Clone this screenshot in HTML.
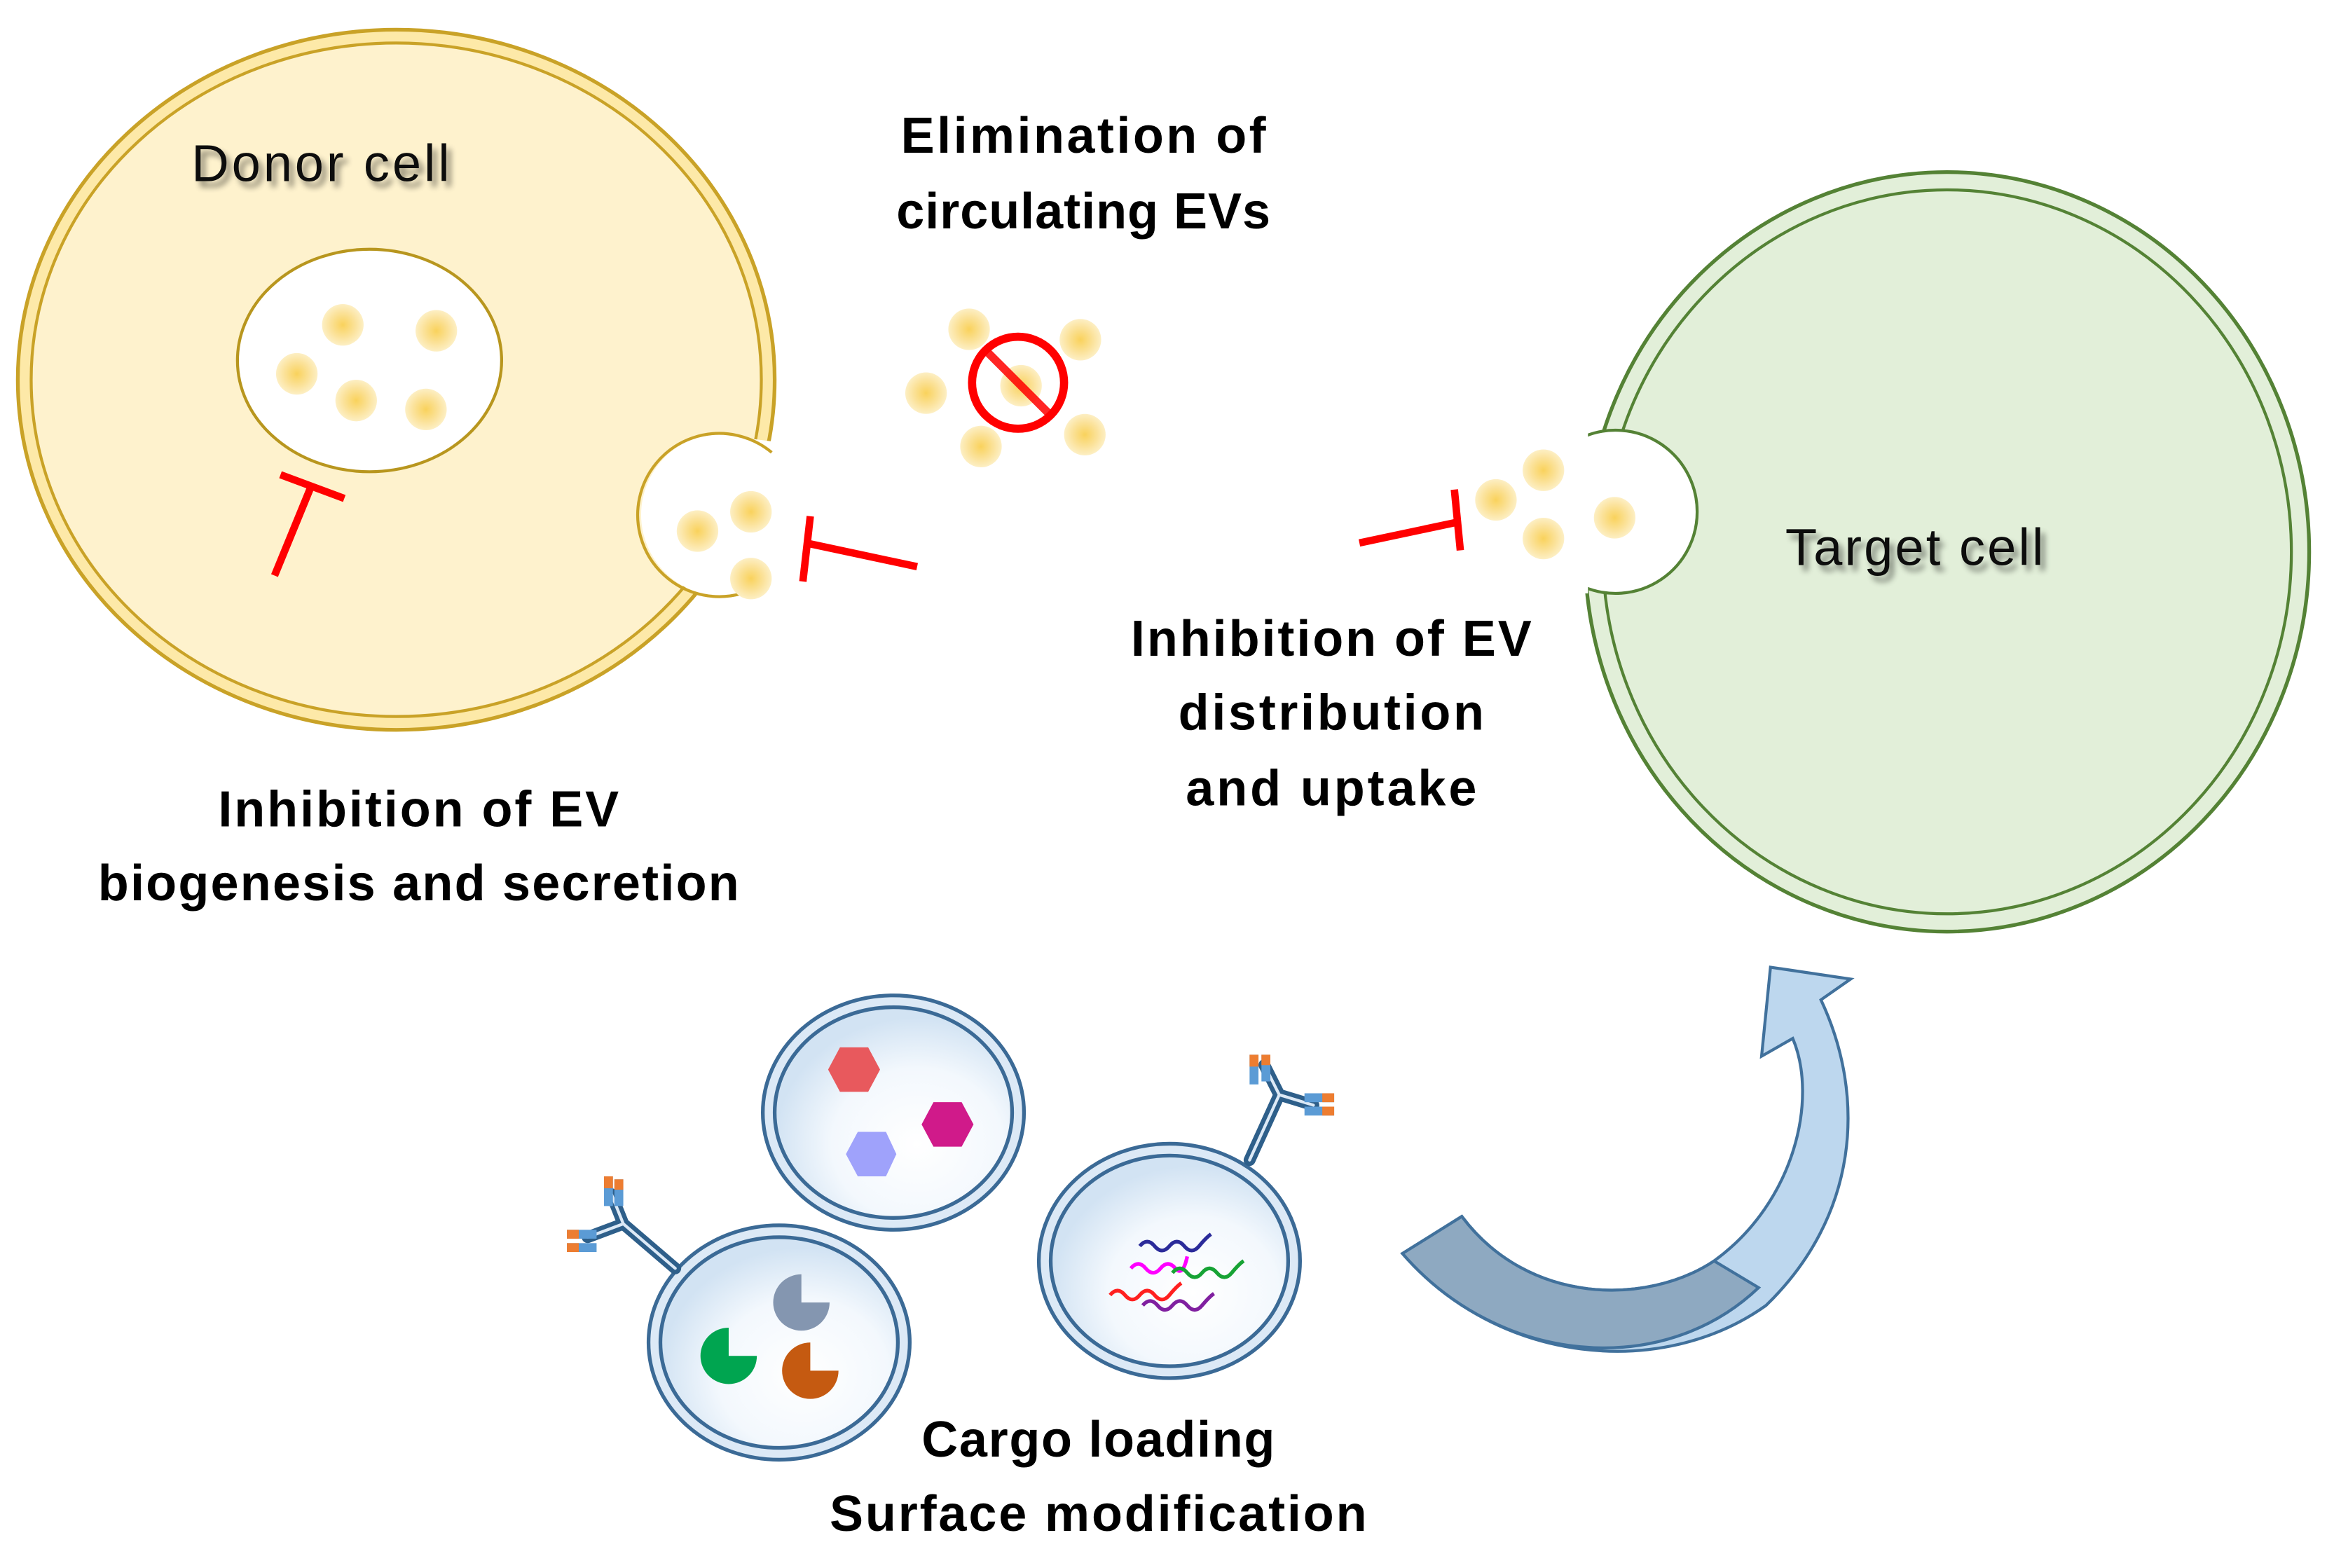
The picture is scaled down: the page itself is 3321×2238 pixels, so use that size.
<!DOCTYPE html>
<html><head><meta charset="utf-8"><style>
html,body{margin:0;padding:0;background:#fff;}
svg{display:block;}
text{font-family:"Liberation Sans",sans-serif;}
</style></head><body>
<svg width="3321" height="2238" viewBox="0 0 1568 1057" preserveAspectRatio="none" xmlns="http://www.w3.org/2000/svg">
<defs>
<radialGradient id="dot" cx="50%" cy="50%" r="50%">
<stop offset="0" stop-color="#f9d25c"/><stop offset="0.6" stop-color="#fbe29a"/><stop offset="1" stop-color="#fdefc4"/>
</radialGradient>
<radialGradient id="ves" cx="60%" cy="65%" r="60%">
<stop offset="0" stop-color="#ffffff"/><stop offset="0.6" stop-color="#f3f8fd"/><stop offset="1" stop-color="#d2e3f3"/>
</radialGradient>
<filter id="sh" x="-10%" y="-10%" width="130%" height="140%"><feGaussianBlur in="SourceAlpha" stdDeviation="2"/><feOffset dx="3" dy="4"/><feComponentTransfer><feFuncA type="linear" slope="0.45"/></feComponentTransfer><feMerge><feMergeNode/><feMergeNode in="SourceGraphic"/></feMerge></filter>
</defs>

<!-- Donor cell -->
<ellipse cx="267" cy="256" rx="255" ry="236" fill="#fde9a8" stroke="#c9a227" stroke-width="2.5"/>
<ellipse cx="267" cy="256" rx="246" ry="227" fill="#fef2cd" stroke="#c9a227" stroke-width="2"/>
<ellipse cx="249" cy="243" rx="89" ry="75" fill="#fff" stroke="#b8961e" stroke-width="2"/>
<g fill="url(#dot)">
<circle cx="231" cy="219" r="14"/><circle cx="294" cy="223" r="14"/><circle cx="200" cy="252" r="14"/><circle cx="240" cy="270" r="14"/><circle cx="287" cy="276" r="14"/>
</g>
<!-- bud on donor -->
<circle cx="487" cy="347" r="55" fill="#fff"/>
<path d="M492 294 L540 300 L540 420 L492 400 Z" fill="#fff"/>
<path d="M520 305 A55 55 0 1 0 500 400" fill="none" stroke="#c9a227" stroke-width="2"/>
<g fill="url(#dot)">
<circle cx="470" cy="358" r="14"/><circle cx="506" cy="345" r="14"/><circle cx="506" cy="390" r="14"/>
</g>
<!-- red inhibitors -->
<g stroke="#ff0000" stroke-width="5" fill="none">
<line x1="185" y1="388" x2="210" y2="327"/><line x1="189" y1="320" x2="232" y2="336"/>
<line x1="618" y1="382" x2="543" y2="366"/><line x1="546" y1="348" x2="541" y2="392"/>
<line x1="916" y1="366" x2="982" y2="352"/><line x1="980" y1="330" x2="984" y2="371"/>
</g>
<!-- circulating EVs -->
<g fill="url(#dot)">
<circle cx="653" cy="222" r="14"/><circle cx="728" cy="229" r="14"/><circle cx="624" cy="265" r="14"/><circle cx="688" cy="260" r="14"/><circle cx="661" cy="301" r="14"/><circle cx="731" cy="293" r="14"/>
</g>
<circle cx="686" cy="258" r="31" fill="none" stroke="#ff0000" stroke-width="5.5"/>
<line x1="664" y1="236" x2="708" y2="280" stroke="#ff0000" stroke-width="5.5" opacity="0.85"/>

<!-- Target cell -->
<ellipse cx="1312" cy="372" rx="244" ry="256" fill="#e2efd9" stroke="#548235" stroke-width="2.5"/>
<ellipse cx="1312" cy="372" rx="232" ry="244" fill="#e2efd9" stroke="#548235" stroke-width="2"/>
<circle cx="1088" cy="345" r="55" fill="#fff"/>
<path d="M1068 294 A55 55 0 1 1 1068 396" fill="none" stroke="#548235" stroke-width="2"/>
<rect x="1040" y="290" width="30" height="110" fill="#fff"/>
<g fill="url(#dot)">
<circle cx="1008" cy="337" r="14"/><circle cx="1040" cy="317" r="14"/><circle cx="1040" cy="363" r="14"/><circle cx="1088" cy="349" r="14"/>
</g>

<!-- Labels -->
<text x="216" y="122" font-size="35" text-anchor="middle" fill="#111" filter="url(#sh)" textLength="174">Donor cell</text>
<text x="1290" y="381" font-size="35" text-anchor="middle" fill="#111" filter="url(#sh)" textLength="174">Target cell</text>
<g font-weight="bold" font-size="34" fill="#000" text-anchor="middle">
<text x="730" y="103" textLength="246">Elimination of</text>
<text x="730" y="154" textLength="252">circulating EVs</text>
<text x="897" y="442" textLength="270">Inhibition of EV</text>
<text x="897" y="492" textLength="206">distribution</text>
<text x="897" y="543" textLength="196">and uptake</text>
<text x="282" y="557" textLength="270">Inhibition of EV</text>
<text x="282" y="607" textLength="432">biogenesis and secretion</text>
<text x="740" y="982" textLength="238">Cargo loading</text>
<text x="740" y="1032" textLength="362">Surface modification</text>
</g>

<!-- Vesicles -->
<g stroke="#3b6a96" stroke-width="2.5">
<ellipse cx="602" cy="750" rx="88" ry="79" fill="#dce9f6"/>
<ellipse cx="602" cy="750" rx="80" ry="71" fill="url(#ves)"/>
<ellipse cx="525" cy="905" rx="88" ry="79" fill="#dce9f6"/>
<ellipse cx="525" cy="905" rx="80" ry="71" fill="url(#ves)"/>
<ellipse cx="788" cy="850" rx="88" ry="79" fill="#dce9f6"/>
<ellipse cx="788" cy="850" rx="80" ry="71" fill="url(#ves)"/>
</g>
<!-- hexagons -->
<polygon points="566,706 585,706 593,721 585,736 566,736 558,721" fill="#e8595d"/>
<polygon points="629,743 648,743 656,758 648,773 629,773 621,758" fill="#d01a8a"/>
<polygon points="578,763 597,763 604,778 597,793 578,793 570,778" fill="#9fa2fb"/>
<!-- pacman -->
<path d="M540 878 L540 859 A19 19 0 1 0 559 878 Z" fill="#8496b0"/>
<path d="M491 914 L491 895 A19 19 0 1 0 510 914 Z" fill="#00a550"/>
<path d="M546 924 L546 905 A19 19 0 1 0 565 924 Z" fill="#c55a11"/>
<!-- RNA squiggles -->
<g fill="none" stroke-width="2.5">
<path d="M768 840 q5 -6 10 0 t10 0 t10 0 t10 0 t8 -8" stroke="#2b2b9a"/>
<path d="M762 855 q5 -6 10 0 t10 0 t10 0 t8 -8" stroke="#ff00ff"/>
<path d="M790 858 q5 -6 10 0 t10 0 t10 0 t10 0 t8 -8" stroke="#17a335"/>
<path d="M748 873 q5 -6 10 0 t10 0 t10 0 t10 0 t8 -8" stroke="#ff2020"/>
<path d="M770 880 q5 -6 10 0 t10 0 t10 0 t10 0 t8 -8" stroke="#8020a0"/>
</g>
<!-- antibodies -->
<g stroke-linecap="round">
<path d="M455 855 L420 825 L412 805 M420 825 L396 834" stroke="#2e5f8a" stroke-width="8" fill="none"/>
<path d="M455 855 L420 825 L412 805 M420 825 L396 834" stroke="#dce9f6" stroke-width="2" fill="none"/>
<rect x="407" y="793" width="6" height="20" fill="#5b9bd5"/><rect x="407" y="793" width="6" height="8" fill="#ed7d31"/>
<rect x="414" y="795" width="6" height="18" fill="#5b9bd5"/><rect x="414" y="795" width="6" height="7" fill="#ed7d31"/>
<rect x="382" y="829" width="20" height="6" fill="#5b9bd5"/><rect x="382" y="829" width="8" height="6" fill="#ed7d31"/>
<rect x="382" y="838" width="20" height="6" fill="#5b9bd5"/><rect x="382" y="838" width="8" height="6" fill="#ed7d31"/>
<path d="M842 782 L862 738 L852 718 M862 738 L885 745" stroke="#2e5f8a" stroke-width="8" fill="none"/>
<path d="M842 782 L862 738 L852 718 M862 738 L885 745" stroke="#dce9f6" stroke-width="2" fill="none"/>
<rect x="842" y="711" width="6" height="20" fill="#5b9bd5"/><rect x="842" y="711" width="6" height="8" fill="#ed7d31"/>
<rect x="850" y="711" width="6" height="18" fill="#5b9bd5"/><rect x="850" y="711" width="6" height="7" fill="#ed7d31"/>
<rect x="879" y="737" width="20" height="6" fill="#5b9bd5"/><rect x="891" y="737" width="8" height="6" fill="#ed7d31"/>
<rect x="879" y="746" width="20" height="6" fill="#5b9bd5"/><rect x="891" y="746" width="8" height="6" fill="#ed7d31"/>
</g>

<!-- curved arrow -->
<path d="M945 845 L985 820 C1030 880 1110 880 1155 850 C1210 810 1225 740 1208 700 L1187 712 L1193 652 L1247 660 L1227 674 C1258 740 1252 820 1190 880 C1120 930 1010 920 945 845 Z" fill="#bdd7ee" stroke="#41719c" stroke-width="2"/>
<path d="M945 845 L985 820 C1030 880 1110 880 1155 850 L1185 868 C1120 930 1010 920 945 845 Z" fill="#8ea9c1" stroke="#41719c" stroke-width="2"/>
</svg>
</body></html>
